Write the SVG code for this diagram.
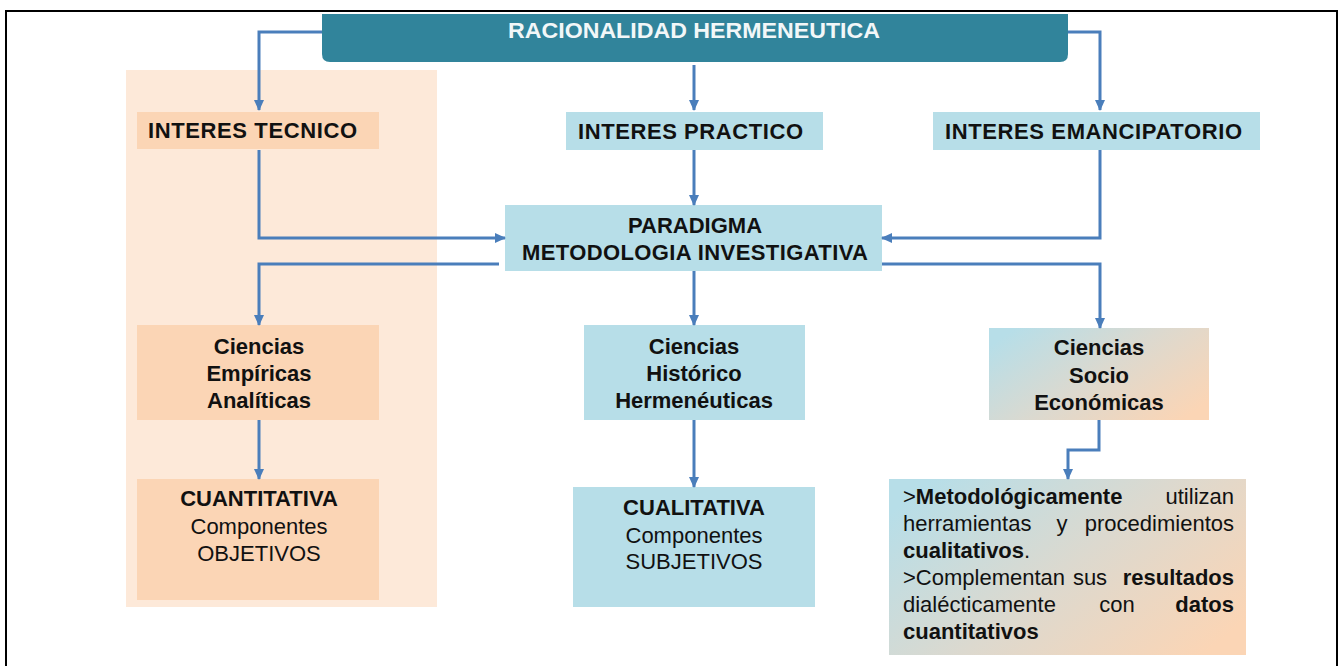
<svg xmlns="http://www.w3.org/2000/svg" width="1343" height="666" viewBox="0 0 1343 666">
<defs>
<style>
text{font-family:"Liberation Sans",Arial,sans-serif;font-size:22px;fill:#111;}
.b{font-weight:bold;}
.c{text-anchor:middle;}
.e{text-anchor:end;}
.peach{fill:#FBD5B5;}
.blue{fill:#B7DEE8;}
.conn path{fill:none;stroke:#4A7EBB;stroke-width:3;marker-end:url(#ah);}
</style>
<marker id="ah" markerUnits="userSpaceOnUse" markerWidth="12" markerHeight="12" viewBox="0 0 12 12" refX="10" refY="6" orient="auto">
<path d="M0,1 L11,6 L0,11 z" fill="#4A7EBB"/>
</marker>
<linearGradient id="grad" x1="0" y1="0.2" x2="1" y2="0.8">
<stop offset="0" stop-color="#B7DEE8"/>
<stop offset="0.5" stop-color="#DCD9CF"/>
<stop offset="1" stop-color="#FBD5B5"/>
</linearGradient>
</defs>
<rect x="0" y="0" width="1343" height="666" fill="#fff"/>
<rect x="6" y="11" width="1331" height="680" fill="none" stroke="#000" stroke-width="2"/>
<rect id="panel" x="126" y="70" width="311" height="537" fill="#FDE9D9"/>

<g id="title">
<path d="M322,14 H1068 V54 Q1068,62 1060,62 H330 Q322,62 322,54 Z" fill="#31849B"/>
<text x="508" y="38" class="b" fill="#fff" style="fill:#F2F7F8" textLength="372" lengthAdjust="spacingAndGlyphs">RACIONALIDAD HERMENEUTICA</text>
</g>

<g id="interes-tecnico">
<rect x="137" y="112" width="242" height="37" class="peach"/>
<text x="148" y="138" class="b" textLength="209" lengthAdjust="spacing">INTERES TECNICO</text>
</g>
<g id="interes-practico">
<rect x="566" y="112" width="257" height="38" class="blue"/>
<text x="578" y="139" class="b" textLength="225" lengthAdjust="spacing">INTERES PRACTICO</text>
</g>
<g id="interes-emancipatorio">
<rect x="933" y="112" width="327" height="38" class="blue"/>
<text x="945" y="139" class="b" textLength="297" lengthAdjust="spacing">INTERES EMANCIPATORIO</text>
</g>

<g id="paradigma">
<rect x="505" y="205" width="377" height="66" class="blue"/>
<text x="695" y="233" class="b c">PARADIGMA</text>
<text x="695" y="260" class="b c" textLength="346" lengthAdjust="spacing">METODOLOGIA INVESTIGATIVA</text>
</g>

<g id="ciencias-empiricas">
<rect x="137" y="325" width="242" height="95" class="peach"/>
<text x="259" y="354" class="b c">Ciencias</text>
<text x="259" y="381" class="b c">Empíricas</text>
<text x="259" y="408" class="b c">Analíticas</text>
</g>
<g id="ciencias-historico">
<rect x="584" y="325" width="221" height="95" class="blue"/>
<text x="694" y="354" class="b c">Ciencias</text>
<text x="694" y="381" class="b c">Histórico</text>
<text x="694" y="408" class="b c">Hermenéuticas</text>
</g>
<g id="ciencias-socio">
<rect x="989" y="328" width="220" height="92" fill="url(#grad)"/>
<text x="1099" y="355" class="b c">Ciencias</text>
<text x="1099" y="383" class="b c">Socio</text>
<text x="1099" y="410" class="b c">Económicas</text>
</g>

<g id="cuantitativa">
<rect x="137" y="479" width="242" height="121" class="peach"/>
<text x="259" y="506" class="b c">CUANTITATIVA</text>
<text x="259" y="534" class="c">Componentes</text>
<text x="259" y="561" class="c">OBJETIVOS</text>
</g>
<g id="cualitativa">
<rect x="573" y="487" width="242" height="120" class="blue"/>
<text x="694" y="515" class="b c">CUALITATIVA</text>
<text x="694" y="543" class="c">Componentes</text>
<text x="694" y="569" class="c">SUBJETIVOS</text>
</g>

<g id="socio-detalle">
<rect x="889" y="479" width="357" height="176" fill="url(#grad)"/>
<text x="903" y="504">&gt;<tspan class="b">Metodológicamente</tspan></text>
<text x="1234" y="504" class="e">utilizan</text>
<text x="903" y="531">herramientas</text>
<text x="1062" y="531" class="c">y</text>
<text x="1234" y="531" class="e">procedimientos</text>
<text x="903" y="558"><tspan class="b">cualitativos</tspan>.</text>
<text x="903" y="585">&gt;Complementan</text>
<text x="1090" y="585" class="c">sus</text>
<text x="1234" y="585" class="b e">resultados</text>
<text x="903" y="612">dialécticamente</text>
<text x="1117" y="612" class="c">con</text>
<text x="1234" y="612" class="b e">datos</text>
<text x="903" y="639" class="b">cuantitativos</text>
</g>

<g id="connectors" class="conn">
<path d="M322,32 H259 V110"/>
<path d="M694,65 V110"/>
<path d="M1068,32 H1100 V110"/>
<path d="M259,150 V238 H505"/>
<path d="M694,150 V205"/>
<path d="M1100,150 V238 H882"/>
<path d="M499,264 H259 V325"/>
<path d="M694,271 V325"/>
<path d="M882,264 H1100 V328"/>
<path d="M259,420 V479"/>
<path d="M694,420 V487"/>
<path d="M1099,420 V450 H1068 V479"/>
</g>
</svg>
